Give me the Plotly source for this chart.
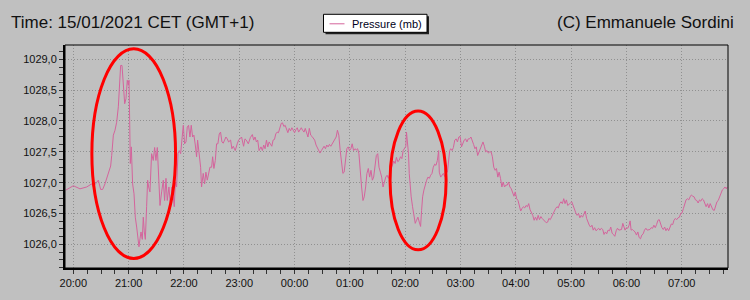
import pandas as pd
import plotly.graph_objects as go

# ---- data (minutes after 15/01/2021 20:00, pressure in mb) ----
minutes = [
    -8.0, 0.0, 7.2, 14.5, 19.9, 21.7, 23.5, 27.1, 29.6, 31.8, 34.3, 37.9, 40.5, 41.6, 43.4, 45.2,
    47.0, 48.8, 49.9, 51.3, 52.8, 54.2, 55.7, 57.1, 58.5, 59.6, 60.4, 61.1, 61.8, 62.9, 64.3, 65.8,
    67.2, 68.7, 69.8, 71.2, 72.3, 73.4, 74.8, 75.9, 77.0, 78.1, 79.5, 80.6, 81.7, 83.1, 84.9, 86.7,
    88.2, 89.6, 91.1, 92.5, 94.0, 95.8, 97.6, 99.0, 100.5, 101.9, 103.7, 105.5, 107.0, 108.4, 109.5,
    110.6, 112.0, 113.5, 114.9, 116.4, 117.8, 119.3, 120.7, 122.2, 123.6, 125.0, 126.5, 127.9, 129.4,
    130.8, 132.3, 133.7, 134.8, 136.6, 138.1, 139.1, 140.9, 142.4, 143.8, 145.3, 146.7, 148.2, 150.0,
    151.1, 152.5, 154.0, 155.4, 156.8, 158.3, 159.7, 161.2, 162.6, 164.1, 165.5, 167.0, 168.4, 170.6,
    172.0, 173.5, 175.6, 177.8, 179.3,
    182.5, 184.7, 186.2, 187.6, 189.8, 192.0, 194.2, 195.6, 197.1, 198.6, 200.0, 201.5, 203.6, 205.1,
    206.5, 208.0, 209.5, 210.9, 212.4, 213.8, 215.3, 216.7, 218.2, 219.6, 221.1, 222.5, 224.0, 225.5,
    226.9, 228.4, 229.8, 231.3, 232.7, 234.2, 235.6, 237.1, 238.5, 240.0, 241.5, 242.9, 244.4, 245.8,
    247.3, 248.7, 250.2, 251.6, 253.1, 254.5, 256.0, 257.5, 258.9, 260.4, 261.8, 263.3, 264.7, 266.2,
    267.6, 269.1, 270.5, 272.0, 273.5, 274.9, 276.4, 277.8, 279.3, 280.7, 282.2, 283.6, 285.1, 286.5,
    288.0, 289.5, 290.9, 292.4, 293.8, 295.3, 296.7, 298.2, 299.6, 301.1, 302.5, 304.0, 305.5, 306.9,
    308.4, 309.8, 311.3, 312.7, 314.2, 315.6, 317.1, 318.5, 320.0, 321.4, 322.9, 324.4, 325.8, 327.3,
    328.7, 330.2, 331.6, 333.1, 334.5, 336.0, 337.5, 338.9, 340.4, 341.8, 343.3, 344.7, 346.2, 347.6,
    349.1, 350.5, 352.0, 353.4, 354.9, 356.4, 357.8, 359.3, 360.7, 361.4, 362.5, 363.6, 364.4, 365.4,
    366.5, 368.0, 369.4, 370.9, 372.3, 373.8, 375.3, 376.7, 377.8, 378.9, 380.3, 381.8, 383.3, 384.7,
    386.2, 387.6, 389.1, 390.5, 392.0, 393.4, 394.9, 396.3,
    397.0, 398.5, 400.2, 401.4, 402.9, 404.3, 405.8, 407.2, 408.3, 409.4, 410.9, 412.3, 413.8, 415.3,
    416.7, 418.2, 419.6, 421.1, 422.6, 424.0, 425.5, 427.0, 428.4, 429.8, 431.3, 432.8, 434.2, 435.7,
    437.1, 438.6, 440.1, 441.5, 443.0, 444.4, 445.9, 447.3, 448.8, 450.3, 451.7, 453.2, 454.6, 456.1,
    457.6, 459.0, 460.5, 461.9, 463.4, 464.9, 466.3, 467.8, 469.2, 470.7, 472.1, 473.6, 475.1, 476.5,
    478.0, 479.4, 480.9, 482.4, 483.8, 485.3, 486.7, 488.2, 489.7, 491.1, 492.6, 494.0, 495.5, 497.0,
    498.4, 499.9, 501.3, 502.8, 504.3, 505.7, 507.2, 508.6, 510.1, 511.5, 513.0, 514.5, 515.9, 517.4,
    518.8, 520.3, 521.8, 523.2, 524.7, 526.1, 527.6, 529.0, 530.5, 532.0, 533.4, 534.9, 536.3, 537.8,
    539.3, 540.7, 542.2, 543.6, 545.1, 546.5, 548.0, 549.5, 550.9, 552.4, 553.8, 555.3, 556.8, 558.2,
    559.7, 561.1, 562.6, 564.0, 565.5, 567.0, 568.4, 569.9, 571.3, 572.8, 574.3, 575.7, 577.2, 578.6,
    580.1, 581.6, 583.0, 584.5, 585.9, 587.4, 588.9, 590.3, 591.8, 593.2, 594.7, 596.1,
    597.1, 598.5, 600.0, 601.5, 602.9, 604.0, 605.1, 606.5, 608.0, 609.4, 610.9, 612.4, 613.8, 615.3,
    616.7, 618.2, 619.6, 621.1, 622.5, 624.0, 625.5, 626.9, 628.4, 629.8, 631.3, 632.7, 634.2, 635.6,
    637.1, 638.5, 640.0, 641.5, 642.9, 644.4, 645.8, 647.3, 648.7, 650.2, 651.6, 653.1, 654.5, 656.0,
    657.5, 658.9, 660.4, 661.8, 663.3, 664.7, 666.2, 667.6, 669.1, 670.5, 672.0, 673.4, 674.9, 676.4,
    677.8, 679.3, 680.7, 682.2, 683.6, 685.1, 686.5, 688.0, 689.4, 690.9, 692.3, 693.8, 695.3, 696.7,
    698.2, 699.6, 701.1, 702.5, 704.0, 705.4, 706.9, 708.4, 709.4,
]

pressure = [
    1026.88, 1026.95, 1026.90, 1026.93, 1026.98, 1026.93, 1026.97, 1027.04, 1026.89, 1026.89, 1026.98, 1027.17, 1027.27, 1027.44, 1027.77, 1027.85,
    1027.98, 1028.23, 1028.55, 1028.90, 1028.90, 1028.50, 1028.28, 1028.36, 1028.66, 1028.58, 1028.66, 1028.01, 1027.31, 1027.58, 1026.98, 1026.82,
    1026.44, 1026.28, 1026.12, 1025.96, 1026.09, 1026.20, 1026.08, 1026.44, 1026.20, 1026.08, 1026.61, 1027.04, 1026.93, 1026.85, 1027.47, 1027.36,
    1027.57, 1027.36, 1027.57, 1026.98, 1026.63, 1026.85, 1027.04, 1026.71, 1027.07, 1026.71, 1026.93, 1026.61, 1026.93, 1026.77, 1026.61,
    1027.01, 1026.93, 1027.47, 1027.52, 1027.47, 1027.71, 1027.93, 1027.63, 1027.66, 1027.90, 1027.93, 1027.74, 1027.93, 1027.74,
    1027.77, 1027.61, 1027.42, 1027.69, 1027.42, 1027.25, 1026.93, 1027.15, 1026.98, 1027.17, 1027.04, 1027.17, 1027.25, 1027.25,
    1027.42, 1027.23, 1027.36, 1027.63, 1027.63, 1027.79, 1027.82, 1027.66, 1027.64, 1027.69, 1027.74, 1027.71, 1027.66, 1027.69,
    1027.55, 1027.59, 1027.52, 1027.63, 1027.69,
    1027.74, 1027.59, 1027.71, 1027.69, 1027.63, 1027.73, 1027.78, 1027.69, 1027.74, 1027.66, 1027.69, 1027.52, 1027.58, 1027.52,
    1027.61, 1027.55, 1027.69, 1027.58, 1027.66, 1027.63, 1027.59, 1027.69, 1027.70, 1027.79, 1027.82, 1027.81, 1027.89, 1027.96,
    1027.97, 1027.91, 1027.93, 1027.88, 1027.81, 1027.88, 1027.84, 1027.89, 1027.85, 1027.81, 1027.86, 1027.89, 1027.82, 1027.85,
    1027.89, 1027.85, 1027.82, 1027.88, 1027.79, 1027.74, 1027.88, 1027.77, 1027.75, 1027.71, 1027.69, 1027.61, 1027.57, 1027.52,
    1027.48, 1027.52, 1027.55, 1027.59, 1027.55, 1027.61, 1027.58, 1027.62, 1027.59, 1027.63, 1027.66, 1027.69, 1027.74, 1027.85,
    1027.77, 1027.52, 1027.31, 1027.15, 1027.17, 1027.42, 1027.55, 1027.58, 1027.52, 1027.55, 1027.63, 1027.52, 1027.55, 1027.53,
    1027.55, 1027.47, 1027.15, 1026.93, 1026.71, 1026.77, 1026.93, 1027.15, 1027.23, 1027.09, 1027.20, 1027.04, 1027.09, 1027.25,
    1027.44, 1027.47, 1027.25, 1027.17, 1027.09, 1026.93, 1027.01, 1027.09, 1027.12, 1027.07, 1027.15, 1027.23, 1027.28, 1027.35,
    1027.31, 1027.41, 1027.34, 1027.36, 1027.42, 1027.39, 1027.52, 1027.55, 1027.59, 1027.82, 1027.69, 1027.47, 1027.15, 1026.93,
    1026.77, 1026.61, 1026.44, 1026.34, 1026.39, 1026.44, 1026.36, 1026.29, 1026.55, 1026.77, 1026.88, 1026.98, 1027.04, 1027.09,
    1027.07, 1027.12, 1027.15, 1027.25, 1027.30, 1027.28, 1027.36, 1027.52,
    1027.17, 1027.09, 1027.12, 1027.15, 1027.10, 1027.15, 1027.17, 1027.36, 1027.52, 1027.55, 1027.52, 1027.57, 1027.69, 1027.71,
    1027.66, 1027.74, 1027.75, 1027.58, 1027.66, 1027.69, 1027.71, 1027.66, 1027.71, 1027.71, 1027.74, 1027.69, 1027.62, 1027.55,
    1027.58, 1027.44, 1027.50, 1027.55, 1027.59, 1027.66, 1027.59, 1027.50, 1027.52, 1027.48, 1027.50, 1027.50, 1027.42, 1027.25,
    1027.20, 1027.23, 1027.09, 1027.17, 1027.07, 1026.93, 1027.01, 1026.93, 1026.96, 1026.96, 1027.01, 1026.93, 1026.90, 1026.85,
    1026.78, 1026.85, 1026.74, 1026.71, 1026.63, 1026.54, 1026.58, 1026.61, 1026.59, 1026.63, 1026.61, 1026.66, 1026.56, 1026.52,
    1026.47, 1026.39, 1026.44, 1026.39, 1026.47, 1026.40, 1026.45, 1026.42, 1026.39, 1026.36, 1026.35, 1026.36, 1026.42, 1026.40,
    1026.45, 1026.50, 1026.54, 1026.58, 1026.61, 1026.59, 1026.66, 1026.69, 1026.66, 1026.74, 1026.66, 1026.72, 1026.63, 1026.66,
    1026.67, 1026.69, 1026.62, 1026.58, 1026.51, 1026.47, 1026.50, 1026.43, 1026.47, 1026.44, 1026.50, 1026.54, 1026.42, 1026.35,
    1026.31, 1026.28, 1026.31, 1026.23, 1026.27, 1026.22, 1026.24, 1026.26, 1026.23, 1026.26, 1026.24, 1026.16, 1026.20, 1026.17,
    1026.23, 1026.22, 1026.28, 1026.18, 1026.16, 1026.13, 1026.22, 1026.26, 1026.23, 1026.24, 1026.24, 1026.34,
    1026.28, 1026.23, 1026.27, 1026.26, 1026.31, 1026.38, 1026.23, 1026.24, 1026.22, 1026.20, 1026.15, 1026.20, 1026.11, 1026.09,
    1026.15, 1026.17, 1026.23, 1026.26, 1026.23, 1026.24, 1026.24, 1026.27, 1026.26, 1026.31, 1026.27, 1026.32, 1026.39, 1026.40,
    1026.32, 1026.27, 1026.24, 1026.28, 1026.22, 1026.26, 1026.22, 1026.28, 1026.33, 1026.32, 1026.39, 1026.42, 1026.40, 1026.43,
    1026.44, 1026.50, 1026.51, 1026.58, 1026.65, 1026.72, 1026.74, 1026.72, 1026.77, 1026.80, 1026.78, 1026.77, 1026.72, 1026.71,
    1026.67, 1026.72, 1026.70, 1026.74, 1026.72, 1026.66, 1026.61, 1026.66, 1026.59, 1026.66, 1026.61, 1026.56, 1026.55, 1026.61,
    1026.69, 1026.71, 1026.77, 1026.82, 1026.88, 1026.90, 1026.93, 1026.90, 1026.93,
]

series_name = "Pressure (mb)"
title_left = "Time: 15/01/2021 CET (GMT+1)"
title_right = "(C) Emmanuele Sordini"
start_time = "2021-01-15 20:00"

# highlighted events (minutes after start, pressure bounds)
events_minutes = [(20.1, 110.9), (343.6, 404.4)]
events_pressure = [(1025.77, 1029.17), (1025.91, 1028.16)]

base = pd.Timestamp(start_time)
times = base + pd.to_timedelta(minutes, unit="min")

BG = "#c0c0c0"
LINE = "#d4649c"
GRID = "#909090"
FONT = "Liberation Sans, Arial, sans-serif"

fig = go.Figure()
fig.add_trace(go.Scatter(x=times, y=pressure, mode="lines", name=series_name,
                         line=dict(color=LINE, width=1), showlegend=False))

shapes = []
for (m0, m1), (p0, p1) in zip(events_minutes, events_pressure):
    shapes.append(dict(type="circle", xref="x", yref="y",
                       x0=base + pd.Timedelta(minutes=m0), x1=base + pd.Timedelta(minutes=m1),
                       y0=p0, y1=p1, line=dict(color="#ff0000", width=3), layer="above"))

# plot border (thin top/right)
shapes.append(dict(type="rect", xref="paper", yref="paper", x0=0, x1=1, y0=0, y1=1,
                   line=dict(color="black", width=1), layer="above"))

# legend box (manual) with drop shadow
W, H = 663.0, 223.0
def px(x):
    return (x - 65) / W
def py(y):
    return (267.7 - y) / H

shapes.append(dict(type="rect", xref="paper", yref="paper", x0=px(325.5), x1=px(429), y0=py(34), y1=py(16),
                   line=dict(width=0), fillcolor="#202020", layer="above"))
shapes.append(dict(type="rect", xref="paper", yref="paper", x0=px(323.5), x1=px(427), y0=py(32), y1=py(14),
                   line=dict(color="black", width=1), fillcolor="white", layer="above"))
shapes.append(dict(type="line", xref="paper", yref="paper", x0=px(329.5), x1=px(344.5), y0=py(23.5), y1=py(23.5),
                   line=dict(color=LINE, width=1), layer="above"))

annotations = [
    dict(text=title_left, xref="paper", yref="paper", x=px(9), y=py(22), xanchor="left", yanchor="middle",
         showarrow=False, font=dict(family=FONT, size=17, color="#111111")),
    dict(text=title_right, xref="paper", yref="paper", x=px(736), y=py(22), xanchor="right", yanchor="middle",
         showarrow=False, font=dict(family=FONT, size=17, color="#111111")),
    dict(text=series_name, xref="paper", yref="paper", x=px(350), y=py(23.5), xanchor="left", yanchor="middle",
         showarrow=False, font=dict(family=FONT, size=11, color="#000020")),
]

fig.update_layout(
    width=750, height=300,
    margin=dict(l=65, r=22, t=45, b=32),
    paper_bgcolor=BG, plot_bgcolor=BG,
    separators=",.",
    showlegend=False,
    shapes=shapes, annotations=annotations,
    font=dict(family=FONT, size=11, color="#111111"),
)

fig.update_xaxes(
    type="date",
    range=[base + pd.Timedelta(minutes=-9.05), base + pd.Timedelta(minutes=710.2)],
    tickformat="%H:%M", dtick=3600000, tick0=base,
    showgrid=True, gridcolor=GRID, griddash="1px,2px", gridwidth=1,
    showline=True, linecolor="black", linewidth=2,
    ticks="outside", ticklen=4, tickcolor="#333333",
    minor=dict(dtick=900000, ticks="outside", ticklen=4, tickcolor="#333333", showgrid=False),
    zeroline=False, tickfont=dict(size=11, color="#111111"),
)
fig.update_yaxes(
    range=[1025.616, 1029.232],
    tickformat=".1f", dtick=0.5, tick0=1026,
    showgrid=True, gridcolor=GRID, griddash="1px,2px", gridwidth=1,
    showline=True, linecolor="black", linewidth=2,
    ticks="outside", ticklen=4, tickcolor="#333333",
    minor=dict(dtick=0.125, ticks="outside", ticklen=4, tickcolor="#333333", showgrid=False),
    zeroline=False, tickfont=dict(size=11, color="#111111"),
)

fig.write_html("out.html")
